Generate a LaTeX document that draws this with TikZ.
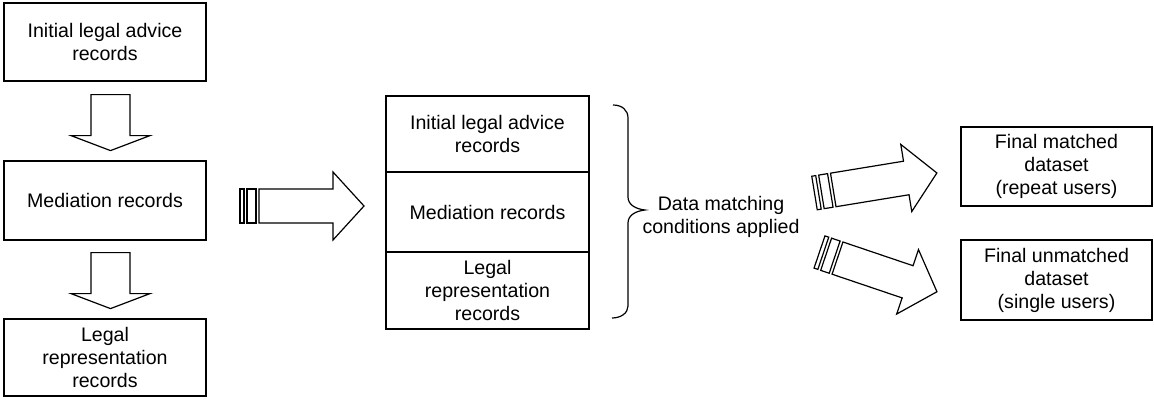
\documentclass[tikz,border=0pt]{standalone}
\usepackage{fontspec}
\setmainfont{Liberation Sans}
\usetikzlibrary{calc}

\tikzset{
  outline/.style={draw=black, line width=1.2pt, line join=miter},
  box/.style={outline, align=center, inner sep=0pt,
    font=\fontsize{19.6}{23}\selectfont},
  label/.style={align=center, inner sep=0pt,
    font=\fontsize{19.6}{23}\selectfont},
  % hollow arrow pointing down; origin at the middle of its flat top
  downarrow/.pic={
    \draw[outline] (-19.5,0) -- (19.5,0) -- (19.5,41) -- (39.5,41)
      -- (0,56) -- (-39.5,41) -- (-19.5,41) -- cycle;
  },
  % hollow arrow with two stripes at its tail; origin at the tail, tip at (124,0)
  stripedarrow/.pic={
    \draw[outline] (0,-17) rectangle (4,17);
    \draw[outline] (7,-17) rectangle (16,17);
    \draw[outline] (19,-17) -- (93,-17) -- (93,-34) -- (124,0)
      -- (93,34) -- (93,17) -- (19,17) -- cycle;
  }
}

\begin{document}
\begin{tikzpicture}[x=1pt,y=-1pt]
\useasboundingbox (0,0) rectangle (1154,400);

% source record sets, one above the other
\node[box, minimum width=202pt, minimum height=78pt] (advice) at (105,42)
  {Initial legal advice\\records};
\node[box, minimum width=202pt, minimum height=79pt] (mediation) at (105,200.5)
  {Mediation records};
\node[box, minimum width=202pt, minimum height=77pt] (representation) at (105,357.5)
  {Legal\\representation\\records};

\coordinate (d1) at ($(advice.south)+(5.5,13)$);
\coordinate (d2) at ($(mediation.south)+(5.5,12)$);
\pic at (d1) {downarrow};
\pic at (d2) {downarrow};

% combined records
\node[box, minimum width=203pt, minimum height=76pt] (sAdvice) at (487.5,134)
  {Initial legal advice\\records};
\node[box, minimum width=203pt, minimum height=80pt] (sMediation) at (487.5,212)
  {Mediation records};
\node[box, minimum width=203pt, minimum height=77pt] (sRepresentation) at (487.5,290.5)
  {Legal\\representation\\records};

\coordinate (m1) at (240,206);
\pic at (m1) {stripedarrow};

% brace and matching step
\coordinate (bTop) at (613,105);
\coordinate (bTip) at (645,210);
\coordinate (bBot) at (612,318);
\draw[line width=1.2pt] (bTop) .. controls (622,105) and (628,110) .. (628,118)
  -- (628,197) .. controls (628,205) and (636,209) .. (bTip)
  .. controls (636,211) and (628,215) .. (628,223)
  -- (628,306) .. controls (628,313) and (621,318) .. (bBot);
\node[label] (matching) at (721,217) {Data matching\\conditions applied};

% results
\node[box, minimum width=191pt, minimum height=79pt] (matched) at (1056.5,166.5)
  {Final matched\\dataset\\(repeat users)};
\node[box, minimum width=191pt, minimum height=80pt] (unmatched) at (1056.5,280)
  {Final unmatched\\dataset\\(single users)};

\coordinate (r1) at (814.5,193);
\coordinate (r2) at (819.5,252);
\pic[rotate=9.3] at (r1) {stripedarrow};
\pic[rotate=-18.7] at (r2) {stripedarrow};
\end{tikzpicture}
\end{document}
